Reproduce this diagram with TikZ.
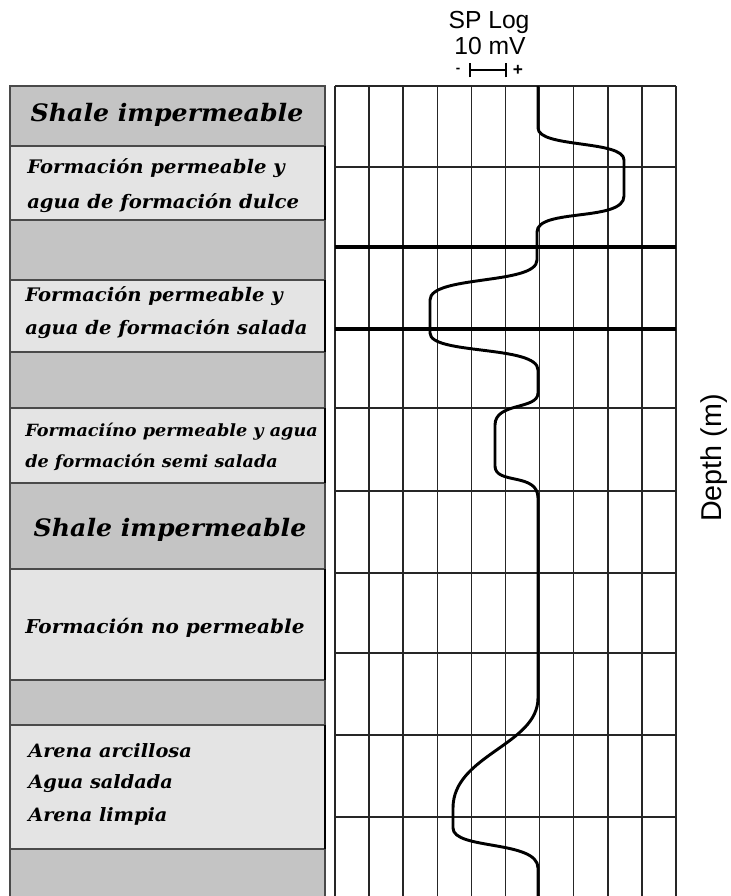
\documentclass[tikz,border=0pt]{standalone}
\usepackage{fontspec}
\setmainfont{Liberation Sans}
\newfontfamily\labfont[FakeStretch=1.05]{DejaVu Serif}
\definecolor{shalegray}{HTML}{C4C4C4}
\definecolor{formgray}{HTML}{E4E4E4}
\definecolor{edgegray}{HTML}{4A4A4A}
\definecolor{gridcol}{HTML}{262626}
\begin{document}
\begin{tikzpicture}[x=0.75pt,y=-0.75pt,
  shalebox/.style={fill=shalegray,draw=edgegray,line width=1.3pt},
  formbox/.style={fill=formgray,draw=edgegray,line width=1.3pt},
  shadowedge/.style={draw=black,line width=2.2pt},
  gridline/.style={draw=gridcol,line width=1.1pt},
  thickline/.style={draw=black,line width=2.3pt},
  splog/.style={draw=black,line width=2.2pt,line join=round},
  lab/.style={inner sep=0pt,font=\labfont\bfseries\itshape},
  titletext/.style={inner sep=0pt,font=\fontsize{18.5}{20}\selectfont}]
\useasboundingbox (0,0) rectangle (731,896);
\fill[white] (0,0) rectangle (731,896);

% ---- left column of formation boxes ----
\path[shalebox] (10,86) rectangle (325,146);
\path[formbox]  (10,146) rectangle (325,220);
\path[shalebox] (10,220) rectangle (325,280);
\path[formbox]  (10,280) rectangle (325,352);
\path[shalebox] (10,352) rectangle (325,408);
\path[formbox]  (10,408) rectangle (325,483);
\path[shalebox] (10,483) rectangle (325,569);
\path[formbox]  (10,569) rectangle (325,680);
\path[shalebox] (10,680) rectangle (325,725);
\path[formbox]  (10,725) rectangle (325,849);
\path[shalebox] (10,849) rectangle (325,900);
\foreach \ya/\yb in {146/220,280/352,408/483,569/680,725/849}
  \draw[shadowedge] (325,\ya) -- (325,\yb);

% ---- labels ----
\node[lab,font=\labfont\bfseries\itshape\fontsize{18}{20}\selectfont] (t1) at (167,115) {Shale impermeable};
\node[lab,anchor=west,font=\labfont\bfseries\itshape\fontsize{14}{16}\selectfont] (t2a) at (27,168) {Formación permeable y};
\node[lab,anchor=west,font=\labfont\bfseries\itshape\fontsize{14}{16}\selectfont] (t2b) at (27,203) {agua de formación dulce};
\node[lab,anchor=west,font=\labfont\bfseries\itshape\fontsize{14}{16}\selectfont] (t4a) at (25,296) {Formación permeable y};
\node[lab,anchor=west,font=\labfont\bfseries\itshape\fontsize{14}{16}\selectfont] (t4b) at (25,329) {agua de formación salada};
\node[lab,anchor=west,font=\labfont\bfseries\itshape\fontsize{12.6}{14}\selectfont] (t6a) at (25,432) {Formaciíno permeable y agua};
\node[lab,anchor=west,font=\labfont\bfseries\itshape\fontsize{12.6}{14}\selectfont] (t6b) at (25,462) {de formación semi salada};
\node[lab,font=\labfont\bfseries\itshape\fontsize{18}{20}\selectfont] (t7) at (170,530) {Shale impermeable};
\node[lab,anchor=west,font=\labfont\bfseries\itshape\fontsize{14.3}{16}\selectfont] (t8) at (25,628) {Formación no permeable};
\node[lab,anchor=west,font=\labfont\bfseries\itshape\fontsize{13.8}{15}\selectfont] (t10a) at (28,751) {Arena arcillosa};
\node[lab,anchor=west,font=\labfont\bfseries\itshape\fontsize{13.8}{15}\selectfont] (t10b) at (28,784) {Agua saldada};
\node[lab,anchor=west,font=\labfont\bfseries\itshape\fontsize{13.8}{15}\selectfont] (t10c) at (28,816) {Arena limpia};

% ---- log grid ----
\foreach \k in {0,...,10}
  \draw[gridline] ({335+34.1*\k},86) -- ({335+34.1*\k},900);
\foreach \y in {86,167,408,491,573,653,735,817}
  \draw[gridline] (335,\y) -- (676,\y);
\draw[thickline] (335,247) -- (676,247);
\draw[thickline] (335,329) -- (676,329);

% ---- SP curve ----
\coordinate (sp0) at (538,86);
\coordinate (sp9) at (538,900);
\draw[splog] (sp0) -- (538,128)
  .. controls (538,148) and (624,140) .. (624,160) -- (624,196)
  .. controls (624,222) and (537,208) .. (537,232) -- (537,260)
  .. controls (537,285) and (430,275) .. (430,300) -- (430,333)
  .. controls (430,355) and (538,345) .. (538,370) -- (538,393)
  .. controls (538,410) and (495,402) .. (495,425) -- (495,466)
  .. controls (495,485) and (538,472) .. (538,498) -- (538,698)
  .. controls (538,745) and (453,755) .. (453,808) -- (453,828)
  .. controls (453,850) and (538,840) .. (538,868) -- (sp9);

% ---- title and scale ----
\node[titletext] (title) at (489,22) {SP Log};
\node[titletext] (scale) at (490,46) {10 mV};
\coordinate (barL) at (470,70);
\coordinate (barR) at (506,70);
\draw[black,line width=1.5pt] (barL) -- (barR);
\draw[black,line width=1.5pt] ([yshift=-5.5pt]barL) -- ([yshift=5.5pt]barL);
\draw[black,line width=1.5pt] ([yshift=-5.5pt]barR) -- ([yshift=5.5pt]barR);
\node[inner sep=0pt,font=\bfseries\fontsize{10}{10}\selectfont] (minus) at (458,70) {-};
\node[inner sep=0pt,font=\bfseries\fontsize{13}{13}\selectfont] (plus) at (518,70) {+};

% ---- depth label ----
\node[inner sep=0pt,rotate=90,font=\fontsize{21.5}{23}\selectfont] (depth) at (714,458) {Depth (m)};
\end{tikzpicture}
\end{document}
